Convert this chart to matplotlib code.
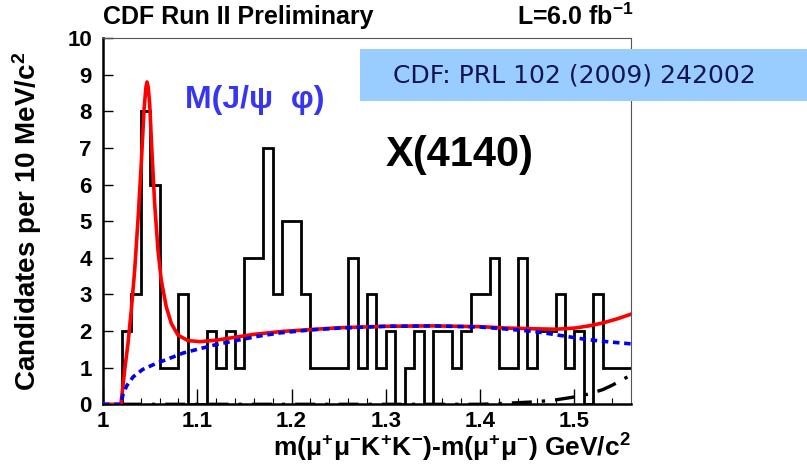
import numpy as np
import matplotlib
matplotlib.use('Agg')
import matplotlib.pyplot as plt
from matplotlib.patches import Rectangle

plt.rcParams['font.family'] = ['Liberation Sans', 'DejaVu Sans']
plt.rcParams['mathtext.fontset'] = 'custom'
plt.rcParams['mathtext.rm'] = 'Liberation Sans:bold'
plt.rcParams['mathtext.it'] = 'Liberation Sans:bold'
plt.rcParams['mathtext.bf'] = 'Liberation Sans:bold'
plt.rcParams['mathtext.default'] = 'rm'

# ── Data ─────────────────────────────────────────────────────
bin_edges = np.round(np.arange(1.00, 1.5601, 0.01), 3)
counts = [0, 0, 2, 3, 8, 6, 1, 1, 3, 0,
          0, 2, 1, 2, 1, 4, 4, 7, 3, 5,
          5, 3, 1, 1, 1, 1, 4, 1, 3, 1,
          2, 0, 1, 2, 0, 2, 2, 1, 2, 3,
          3, 4, 1, 1, 4, 1, 2, 2, 3, 1,
          2, 0, 3, 1, 1, 1]

fit_x = [1.000, 1.019, 1.023, 1.0265, 1.030, 1.0336, 1.0371, 1.0406, 1.0435,
         1.0455, 1.0467, 1.048, 1.0495, 1.052, 1.0548, 1.0583, 1.0618, 1.0671,
         1.0724, 1.0795, 1.090, 1.103, 1.12, 1.14, 1.16, 1.19, 1.22, 1.25,
         1.30, 1.35, 1.40, 1.43, 1.46, 1.48, 1.50, 1.515, 1.53, 1.545, 1.56]
fit_y = [0, 0, 0.94, 1.66, 2.57, 3.66, 5.03, 6.57, 8.03,
         8.65, 8.80, 8.65, 8.21, 6.84, 5.48, 4.21, 3.39, 2.66,
         2.21, 1.89, 1.74, 1.71, 1.75, 1.83, 1.91, 1.99, 2.04, 2.09,
         2.13, 2.14, 2.12, 2.08, 2.06, 2.05, 2.08, 2.14, 2.22, 2.33, 2.46]

bkg_x = [1.000, 1.019, 1.021, 1.025, 1.032, 1.042, 1.055, 1.070, 1.085,
         1.103, 1.12, 1.145, 1.165, 1.188, 1.22, 1.25, 1.30, 1.35, 1.40,
         1.43, 1.46, 1.49, 1.51, 1.53, 1.56]
bkg_y = [0, 0, 0.25, 0.50, 0.75, 0.95, 1.10, 1.25, 1.40,
         1.52, 1.63, 1.76, 1.86, 1.95, 2.03, 2.08, 2.13, 2.14, 2.11,
         2.05, 1.98, 1.86, 1.78, 1.72, 1.65]

bump_x = [1.02, 1.40, 1.43, 1.46, 1.48, 1.50, 1.515, 1.53, 1.54, 1.55, 1.56]
bump_y = [0, 0, 0.03, 0.07, 0.12, 0.20, 0.28, 0.40, 0.52, 0.66, 0.80]

xticks = [1.0, 1.1, 1.2, 1.3, 1.4, 1.5]
xtick_labels = ['1', '1.1', '1.2', '1.3', '1.4', '1.5']
yticks = list(range(0, 11))

# ── Figure ───────────────────────────────────────────────────
fig = plt.figure(figsize=(8.07, 4.65), dpi=100)
ax = fig.add_axes([103/807, 60.7/465, 528/807, 366.3/465])

ax.stairs(counts, bin_edges, color='black', linewidth=2.0, baseline=None)
ax.plot(bump_x, bump_y, color='black', linewidth=2.4, linestyle=(0, (6, 3, 1, 3)))
ax.plot(bkg_x, bkg_y, color='#0000ee', linewidth=2.6, linestyle=(0, (1.8, 1.3)), zorder=4)
ax.plot(fit_x, fit_y, color='#ff0000', linewidth=2.6, zorder=3)

ax.set_xlim(1.0, 1.56)
ax.set_ylim(0, 10)
ax.set_xticks(xticks)
ax.set_xticklabels(xtick_labels)
ax.set_xticks(np.arange(1.02, 1.56, 0.02), minor=True)
ax.set_yticks(yticks)
ax.tick_params(axis='both', which='major', direction='in', labelsize=16, width=1.0)
ax.tick_params(axis='x', which='major', length=11, pad=5)
ax.tick_params(axis='x', which='minor', direction='in', length=4, width=0.8)
ax.tick_params(axis='y', which='major', length=7, pad=8)
for lab in ax.get_xticklabels() + ax.get_yticklabels():
    lab.set_fontweight('bold')

for side in ['left', 'bottom']:
    ax.spines[side].set_linewidth(1.8)
for side in ['top', 'right']:
    ax.spines[side].set_linewidth(0.8)
    ax.spines[side].set_color('#555555')

ax.set_ylabel(r'Candidates per 10 MeV/c$^{2}$', fontsize=20, fontweight='bold')
ax.yaxis.set_label_coords(-0.112, 0.5)
ax.set_xlabel(r'm($\mu^{+}\mu^{-}$K$^{+}$K$^{-}$)-m($\mu^{+}\mu^{-}$) GeV/c$^{2}$',
              fontsize=19, fontweight='bold', loc='right', labelpad=0)

fig.text(103/807, 1 - 17/465, 'CDF Run II Preliminary', fontsize=18, fontweight='bold',
         ha='left', va='center')
fig.text(634/807, 1 - 17/465, r'L=6.0 fb$^{-1}$', fontsize=18, fontweight='bold',
         ha='right', va='center')

ax.text(0.155, 0.83, 'M(J/ψ  φ)', transform=ax.transAxes, fontsize=23,
        fontweight='bold', color='#3636f0', ha='left', va='center')
ax.text(0.535, 0.68, 'X(4140)', transform=ax.transAxes, fontsize=30,
        fontweight='bold', color='black', ha='left', va='center')

# reference box
fig.patches.append(Rectangle((360/807, 1 - 101/465), 447/807, 52/465,
                             transform=fig.transFigure, facecolor='#99ccff',
                             edgecolor='none', zorder=5))
fig.text(574/807, 1 - 75/465, 'CDF: PRL 102 (2009) 242002', fontsize=18,
         color='#141450', ha='center', va='center', zorder=6,
         family=['DejaVu Sans'])

plt.savefig('out.png', dpi=100)
